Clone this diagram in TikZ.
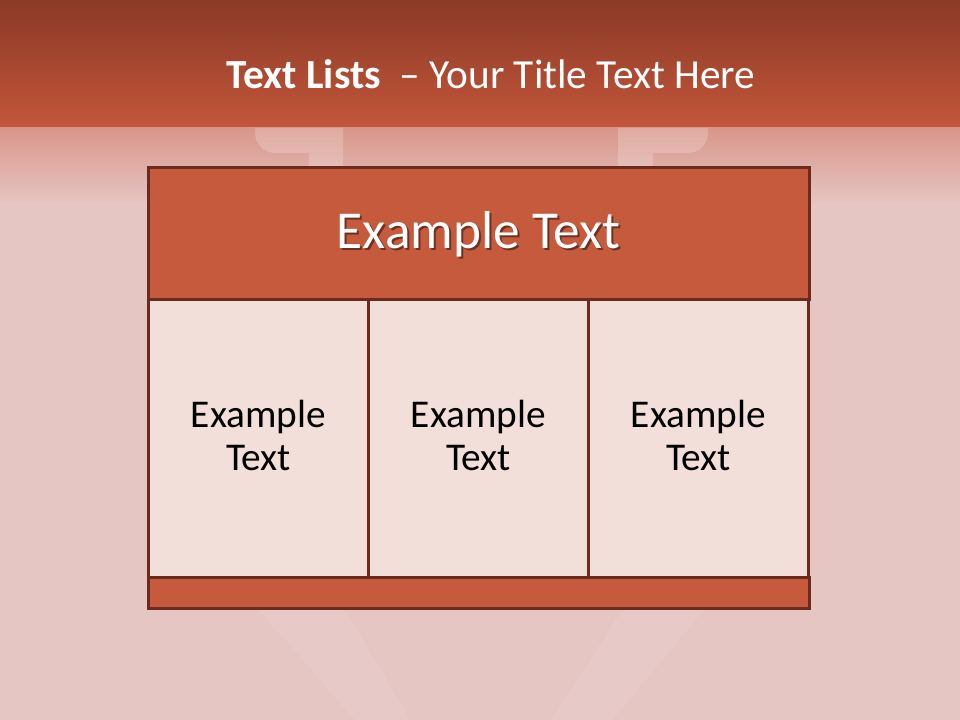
\documentclass[tikz,border=0pt]{standalone}
\usepackage{fontspec}
\setmainfont{Carlito}
\definecolor{bgpink}{HTML}{E6C6C3}
\definecolor{banddark}{HTML}{8A3A27}
\definecolor{bandmid}{HTML}{C3563A}
\definecolor{bandfade}{HTML}{D8968A}
\definecolor{hdrfill}{HTML}{C65A3C}
\definecolor{cellfill}{HTML}{F3DFDA}
\definecolor{edge}{HTML}{6B2A1E}
\begin{document}
\begin{tikzpicture}[x=0.75pt,y=-0.75pt,
  boxstyle/.style={draw=edge,line width=2.25pt,inner sep=0pt,outer sep=0pt},
  cellbox/.style={boxstyle,fill=cellfill,minimum width=165pt,minimum height=207.75pt,
     align=center,font=\fontsize{29.5}{32.3}\selectfont,text=black},
  celltext/.style={align=center,font=\fontsize{29.5}{32.3}\selectfont,text=black},
  wmark/.style={fill=white,opacity=0.2},
  wmarklow/.style={fill=white,opacity=0.08}]
\useasboundingbox (0,0) rectangle (960,720);
% background
\fill[bgpink] (0,0) rectangle (960,720);
\shade[top color=banddark,bottom color=bandmid] (0,0) rectangle (960,128);
\shade[top color=bandfade,bottom color=bgpink] (0,127.5) rectangle (960,205);
% watermark (faint arrow outline)
\fill[wmark] (343,128) -- (343,170) -- (309,170) -- (309,153) -- (275,153)
   arc[start angle=270,end angle=180,radius=15pt] -- (255,128) -- cycle;
\fill[wmark] (618,128) -- (618,170) -- (653,170) -- (653,153) -- (688,153)
   arc[start angle=270,end angle=360,radius=15pt] -- (708,128) -- cycle;
\fill[wmarklow] (256,606) -- (343,606) -- (410,720) -- (355,720) -- cycle;
\fill[wmarklow] (625,606) -- (707,606) -- (612,720) -- (551,720) -- cycle;
% title
\node[text=white,font=\fontsize{31}{36}\selectfont,anchor=base] (title) at (491,88.5)
  {\textbf{Text Lists}\ \ – Your Title Text Here};
% table
\node[boxstyle,fill=hdrfill,minimum width=495.75pt,minimum height=99pt] (hdr) at (478.5,234) {};
\node[text=black,opacity=0.45,font=\fontsize{40}{46}\selectfont] (hdrshadow) at (480.5,236) {Example Text};
\node[text=white,font=\fontsize{40}{46}\selectfont] (hdrtext) at (hdr.center) {Example Text};
\node[cellbox] (c1) at (258.5,438.5) {};
\node[cellbox] (c2) at (478.5,438.5) {};
\node[cellbox] (c3) at (698.5,438.5) {};
\node[celltext] (t1) at (258.5,435.5) {Example\\Text};
\node[celltext] (t2) at (478.5,435.5) {Example\\Text};
\node[celltext] (t3) at (698.5,435.5) {Example\\Text};
\node[boxstyle,fill=hdrfill,minimum width=495.75pt,minimum height=23.25pt] (foot) at (478.5,592.5) {};
\end{tikzpicture}
\end{document}
